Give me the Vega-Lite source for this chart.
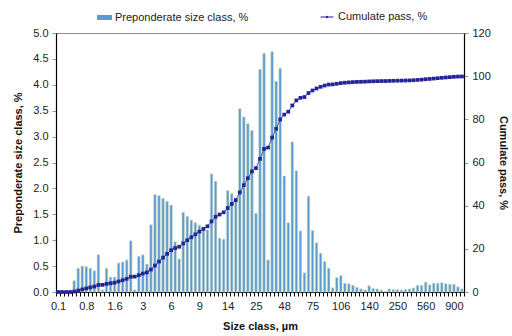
{
  "$schema": "https://vega.github.io/schema/vega-lite/v6.json",
  "width": 408,
  "height": 259,
  "autosize": {"type": "none"},
  "padding": {"left": 56, "top": 33, "right": 48, "bottom": 44},
  "background": "white",
  "config": {
    "font": "Liberation Sans",
    "view": {"stroke": "#8c8c8c", "strokeWidth": 1},
    "axis": {
      "labelFont": "Liberation Sans",
      "labelFontSize": 11,
      "labelColor": "#222222",
      "titleFont": "Liberation Sans",
      "titleFontSize": 11,
      "titleFontWeight": "bold",
      "titleColor": "#111111",
      "domainColor": "#000000",
      "domainWidth": 1.2,
      "grid": false
    },
    "legend": {
      "labelFont": "Liberation Sans",
      "labelFontSize": 11,
      "labelColor": "#222222",
      "padding": 0
    }
  },
  "data": {
    "values": [
      {"size": 0.1, "pct": 0, "cum": 0},
      {"size": 0.2, "pct": 0, "cum": 0},
      {"size": 0.3, "pct": 0, "cum": 0},
      {"size": 0.4, "pct": 0, "cum": 0},
      {"size": 0.5, "pct": 0.22, "cum": 0.22},
      {"size": 0.6, "pct": 0.46, "cum": 0.68},
      {"size": 0.7, "pct": 0.50, "cum": 1.18},
      {"size": 0.8, "pct": 0.49, "cum": 1.67},
      {"size": 0.9, "pct": 0.46, "cum": 2.13},
      {"size": 1.0, "pct": 0.41, "cum": 2.54},
      {"size": 1.1, "pct": 0.72, "cum": 3.26},
      {"size": 1.2, "pct": 0.04, "cum": 3.30},
      {"size": 1.3, "pct": 0.46, "cum": 3.76},
      {"size": 1.4, "pct": 0.29, "cum": 4.05},
      {"size": 1.6, "pct": 0.29, "cum": 4.34},
      {"size": 1.8, "pct": 0.56, "cum": 4.90},
      {"size": 2.0, "pct": 0.58, "cum": 5.48},
      {"size": 2.2, "pct": 0.62, "cum": 6.10},
      {"size": 2.4, "pct": 0.99, "cum": 7.09},
      {"size": 2.6, "pct": 0.04, "cum": 7.13},
      {"size": 2.8, "pct": 0.69, "cum": 7.82},
      {"size": 3, "pct": 0.72, "cum": 8.54},
      {"size": 3.4, "pct": 0.54, "cum": 9.08},
      {"size": 3.8, "pct": 1.30, "cum": 10.38},
      {"size": 4.2, "pct": 1.88, "cum": 12.26},
      {"size": 4.6, "pct": 1.86, "cum": 14.12},
      {"size": 5.0, "pct": 1.81, "cum": 15.93},
      {"size": 5.5, "pct": 1.75, "cum": 17.68},
      {"size": 6, "pct": 1.68, "cum": 19.36},
      {"size": 6.4, "pct": 0.97, "cum": 20.33},
      {"size": 6.8, "pct": 0.64, "cum": 20.97},
      {"size": 7.2, "pct": 1.54, "cum": 22.51},
      {"size": 7.6, "pct": 1.46, "cum": 23.97},
      {"size": 8.0, "pct": 1.39, "cum": 25.36},
      {"size": 8.5, "pct": 1.34, "cum": 26.70},
      {"size": 9, "pct": 1.29, "cum": 27.99},
      {"size": 10, "pct": 1.25, "cum": 29.24},
      {"size": 10.5, "pct": 1.20, "cum": 30.44},
      {"size": 11, "pct": 2.28, "cum": 32.72},
      {"size": 12, "pct": 2.14, "cum": 34.86},
      {"size": 12.5, "pct": 1.04, "cum": 35.90},
      {"size": 13, "pct": 1.02, "cum": 36.92},
      {"size": 14, "pct": 1.96, "cum": 38.88},
      {"size": 15, "pct": 1.90, "cum": 40.78},
      {"size": 16, "pct": 1.80, "cum": 42.58},
      {"size": 18, "pct": 3.54, "cum": 46.12},
      {"size": 20, "pct": 3.38, "cum": 49.50},
      {"size": 21, "pct": 3.25, "cum": 52.75},
      {"size": 23, "pct": 3.12, "cum": 55.87},
      {"size": 25, "pct": 1.52, "cum": 57.39},
      {"size": 28, "pct": 4.30, "cum": 61.69},
      {"size": 30, "pct": 4.61, "cum": 66.30},
      {"size": 32, "pct": 0.62, "cum": 66.92},
      {"size": 36, "pct": 4.64, "cum": 71.56},
      {"size": 40, "pct": 4.07, "cum": 75.63},
      {"size": 45, "pct": 4.32, "cum": 79.95},
      {"size": 48, "pct": 2.24, "cum": 82.19},
      {"size": 50, "pct": 1.34, "cum": 83.53},
      {"size": 53, "pct": 2.90, "cum": 86.43},
      {"size": 56, "pct": 2.34, "cum": 88.77},
      {"size": 60, "pct": 1.18, "cum": 89.95},
      {"size": 63, "pct": 0.37, "cum": 90.32},
      {"size": 71, "pct": 1.85, "cum": 92.17},
      {"size": 75, "pct": 1.19, "cum": 93.36},
      {"size": 80, "pct": 0.95, "cum": 94.31},
      {"size": 85, "pct": 0.75, "cum": 95.06},
      {"size": 90, "pct": 0.59, "cum": 95.65},
      {"size": 95, "pct": 0.46, "cum": 96.11},
      {"size": 100, "pct": 0.08, "cum": 96.19},
      {"size": 103, "pct": 0.28, "cum": 96.47},
      {"size": 106, "pct": 0.32, "cum": 96.79},
      {"size": 110, "pct": 0.17, "cum": 96.96},
      {"size": 112, "pct": 0.16, "cum": 97.12},
      {"size": 118, "pct": 0.13, "cum": 97.25},
      {"size": 120, "pct": 0.09, "cum": 97.34},
      {"size": 125, "pct": 0.06, "cum": 97.40},
      {"size": 132, "pct": 0.04, "cum": 97.44},
      {"size": 140, "pct": 0.12, "cum": 97.56},
      {"size": 150, "pct": 0.07, "cum": 97.63},
      {"size": 160, "pct": 0.06, "cum": 97.69},
      {"size": 180, "pct": 0.04, "cum": 97.73},
      {"size": 200, "pct": 0.01, "cum": 97.74},
      {"size": 212, "pct": 0.06, "cum": 97.80},
      {"size": 236, "pct": 0.05, "cum": 97.85},
      {"size": 250, "pct": 0.05, "cum": 97.90},
      {"size": 280, "pct": 0.04, "cum": 97.94},
      {"size": 300, "pct": 0.05, "cum": 97.99},
      {"size": 355, "pct": 0.06, "cum": 98.05},
      {"size": 400, "pct": 0.08, "cum": 98.13},
      {"size": 425, "pct": 0.13, "cum": 98.26},
      {"size": 500, "pct": 0.13, "cum": 98.39},
      {"size": 560, "pct": 0.19, "cum": 98.58},
      {"size": 600, "pct": 0.14, "cum": 98.72},
      {"size": 630, "pct": 0.17, "cum": 98.89},
      {"size": 710, "pct": 0.17, "cum": 99.06},
      {"size": 750, "pct": 0.18, "cum": 99.24},
      {"size": 800, "pct": 0.16, "cum": 99.40},
      {"size": 850, "pct": 0.15, "cum": 99.55},
      {"size": 900, "pct": 0.15, "cum": 99.70},
      {"size": 1000, "pct": 0.10, "cum": 99.80},
      {"size": 1100, "pct": 0.06, "cum": 99.86}
    ]
  },
  "encoding": {
    "x": {
      "field": "size",
      "type": "ordinal",
      "scale": {"paddingInner": 0, "paddingOuter": 0},
      "axis": {
        "title": "Size class, µm",
        "titlePadding": 9,
        "labelAngle": 0,
        "labelOverlap": false,
        "labelPadding": 4,
        "tickBand": "extent",
        "tickSize": 4,
        "tickColor": "#000000",
        "labelExpr": "indexof([0.1, 0.8, 1.6, 3, 6, 9, 14, 25, 48, 75, 106, 140, 250, 560, 900], datum.value) >= 0 ? datum.label : ''"
      }
    }
  },
  "layer": [
    {
      "mark": {"type": "bar", "size": 2.6, "stroke": "#d9e4bf", "strokeWidth": 0.6},
      "encoding": {
        "y": {
          "field": "pct",
          "type": "quantitative",
          "scale": {"domain": [0, 5]},
          "axis": {
            "title": "Preponderate size class, %",
            "titlePadding": 9,
            "values": [0, 0.5, 1, 1.5, 2, 2.5, 3, 3.5, 4, 4.5, 5],
            "format": ".1f",
            "tickSize": 4,
            "tickColor": "#999999",
            "labelPadding": 4
          }
        },
        "fill": {
          "datum": "Preponderate size class, %",
          "type": "nominal",
          "scale": {"range": ["#5b9bd5"]},
          "legend": {
            "title": null,
            "orient": "none",
            "legendX": 41,
            "legendY": -23,
            "symbolType": "M-1,-0.33H1V0.33H-1Z",
            "symbolSize": 225,
            "symbolStrokeWidth": 0,
            "labelOffset": 3
          }
        }
      }
    },
    {
      "mark": {
        "type": "line",
        "strokeWidth": 0.8,
        "point": {"filled": true, "shape": "square", "size": 3, "color": "#00007a"}
      },
      "encoding": {
        "y": {
          "field": "cum",
          "type": "quantitative",
          "scale": {"domain": [0, 120]},
          "axis": {
            "orient": "right",
            "title": "Cumulate pass, %",
            "titlePadding": 7,
            "values": [0, 20, 40, 60, 80, 100, 120],
            "tickSize": 4,
            "tickColor": "#999999",
            "labelPadding": 4
          }
        },
        "stroke": {
          "datum": "Cumulate pass, %",
          "type": "nominal",
          "scale": {"range": ["#23239a"]},
          "legend": {
            "title": null,
            "orient": "none",
            "legendX": 264,
            "legendY": -23,
            "symbolType": "M-1,0H1M-0.1,-0.1H0.1V0.1H-0.1Z",
            "symbolSize": 169,
            "symbolStrokeWidth": 1,
            "labelOffset": 4
          }
        }
      }
    }
  ],
  "resolve": {"scale": {"y": "independent"}}
}
